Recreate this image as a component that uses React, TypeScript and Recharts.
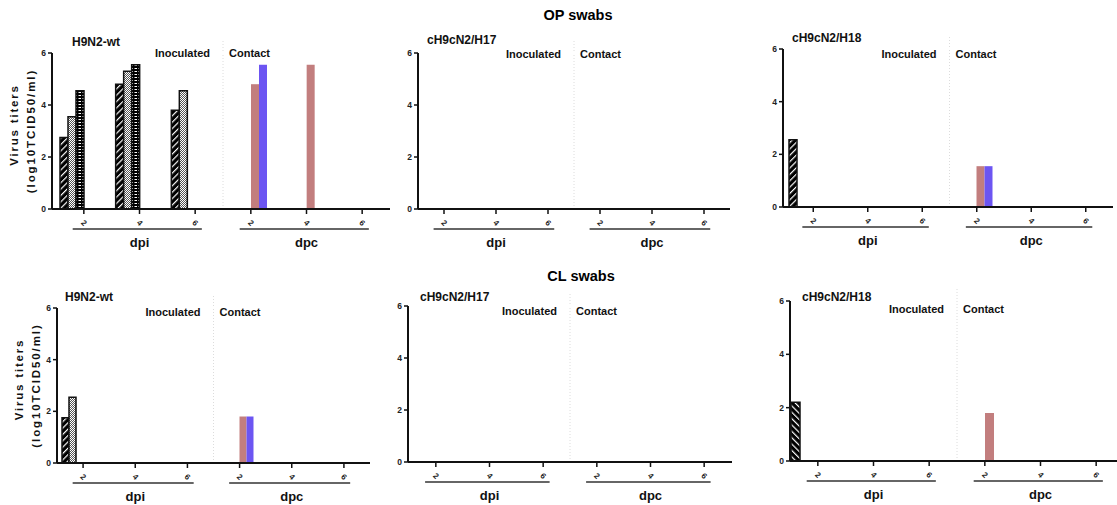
import React from 'react';
import { BarChart, Bar, XAxis, YAxis, ReferenceLine } from 'recharts';

// x categories: days post inoculation / days post contact
const categories = ['dpi2', 'dpi4', 'dpi6', 'dpc2', 'dpc4', 'dpc6'];
const tickLabels = ['2', '4', '6', '2', '4', '6'];
const groupLabels = ['', 'dpi', '', '', 'dpc', ''];
const yTicks = [0, 2, 4, 6];

// OP swabs - H9N2-wt
const opWtInoc1 = [2.75, 4.8, 3.8, 0, 0, 0];
const opWtInoc2 = [3.55, 5.3, 4.55, 0, 0, 0];
const opWtInoc3 = [4.55, 5.55, 0, 0, 0, 0];
const opWtCont1 = [0, 0, 0, 4.8, 5.55, 0];
const opWtCont2 = [0, 0, 0, 5.55, 0, 0];
const opWtCont3 = [0, 0, 0, 0, 0, 0];

// OP swabs - cH9cN2/H17
const opH17Inoc1 = [0, 0, 0, 0, 0, 0];
const opH17Inoc2 = [0, 0, 0, 0, 0, 0];
const opH17Inoc3 = [0, 0, 0, 0, 0, 0];
const opH17Cont1 = [0, 0, 0, 0, 0, 0];
const opH17Cont2 = [0, 0, 0, 0, 0, 0];
const opH17Cont3 = [0, 0, 0, 0, 0, 0];

// OP swabs - cH9cN2/H18
const opH18Inoc1 = [2.55, 0, 0, 0, 0, 0];
const opH18Inoc2 = [0, 0, 0, 0, 0, 0];
const opH18Inoc3 = [0, 0, 0, 0, 0, 0];
const opH18Cont1 = [0, 0, 0, 1.55, 0, 0];
const opH18Cont2 = [0, 0, 0, 1.55, 0, 0];
const opH18Cont3 = [0, 0, 0, 0, 0, 0];

// CL swabs - H9N2-wt
const clWtInoc1 = [1.75, 0, 0, 0, 0, 0];
const clWtInoc2 = [2.55, 0, 0, 0, 0, 0];
const clWtInoc3 = [0, 0, 0, 0, 0, 0];
const clWtCont1 = [0, 0, 0, 1.8, 0, 0];
const clWtCont2 = [0, 0, 0, 1.8, 0, 0];
const clWtCont3 = [0, 0, 0, 0, 0, 0];

// CL swabs - cH9cN2/H17
const clH17Inoc1 = [0, 0, 0, 0, 0, 0];
const clH17Inoc2 = [0, 0, 0, 0, 0, 0];
const clH17Inoc3 = [0, 0, 0, 0, 0, 0];
const clH17Cont1 = [0, 0, 0, 0, 0, 0];
const clH17Cont2 = [0, 0, 0, 0, 0, 0];
const clH17Cont3 = [0, 0, 0, 0, 0, 0];

// CL swabs - cH9cN2/H18
const clH18Inoc1 = [2.2, 0, 0, 0, 0, 0];
const clH18Inoc2 = [0, 0, 0, 0, 0, 0];
const clH18Inoc3 = [0, 0, 0, 0, 0, 0];
const clH18Cont1 = [0, 0, 0, 1.8, 0, 0];
const clH18Cont2 = [0, 0, 0, 0, 0, 0];
const clH18Cont3 = [0, 0, 0, 0, 0, 0];

const FONT = '"Liberation Sans", Arial, Helvetica, sans-serif';
const PINK = '#c27e7e';
const BLUE = '#6c55f2';

const buildRows = (s: number[][]) =>
  categories.map((cat, i) => ({
    cat,
    inoc1: s[0][i],
    inoc2: s[1][i],
    inoc3: s[2][i],
    cont1: s[3][i],
    cont2: s[4][i],
    cont3: s[5][i],
  }));

const YW = 50;
const MT = 16;
const MR = 8;
const X1H = 18;
const X2H = 30;
const MB = 2;

interface PanelProps {
  title: string;
  rows: any[];
  x0: number;
  x1: number;
  yTop: number;
  yBot: number;
  padL: number;
  padR: number;
  barSize: number;
  hatch: string;
  yLabel?: boolean;
  titleX: number;
  titleY: number;
  subY: number;
}

function Panel(p: PanelProps) {
  const left = p.x0 - YW;
  const top = p.yTop - MT;
  const width = YW + (p.x1 - p.x0) + MR;
  const height = MT + (p.yBot - p.yTop) + X1H + X2H + MB;
  const band = (p.x1 - p.x0 - p.padL - p.padR) / categories.length;
  const subDy = p.subY - p.yTop;

  const NumTick = ({ x, y, index }: any) => (
    <text
      x={x}
      y={y + 7}
      transform={`rotate(45 ${x} ${y + 7})`}
      textAnchor="middle"
      dominantBaseline="central"
      fontSize={8}
      fontWeight={700}
      fill="#222"
      fontFamily={FONT}
    >
      {tickLabels[index]}
    </text>
  );

  const GroupTick = ({ x, y, index }: any) => {
    if (!groupLabels[index]) return null;
    return (
      <g>
        <line x1={x - 1.2 * band} x2={x + 1.12 * band} y1={y + 2} y2={y + 2} stroke="#333" strokeWidth={1.5} />
        <text x={x} y={y + 15} textAnchor="middle" dominantBaseline="central" fontSize={13} fontWeight={700} fill="#111" fontFamily={FONT}>
          {groupLabels[index]}
        </text>
      </g>
    );
  };

  const Divider = ({ viewBox }: any) => {
    const { x, y } = viewBox;
    return (
      <g fontFamily={FONT} fontSize={11} fontWeight={700} fill="#111">
        <line x1={x} x2={x} y1={y - 12} y2={y} stroke="#dcdcdc" strokeDasharray="1 2" />
        <text x={x - 13} y={y + subDy} textAnchor="end" dominantBaseline="central">Inoculated</text>
        <text x={x + 6} y={y + subDy} textAnchor="start" dominantBaseline="central">Contact</text>
      </g>
    );
  };

  const YLab = ({ viewBox }: any) => {
    const { x, y, width: w, height: h } = viewBox;
    const cy = y + h / 2;
    const c1 = x + w - 38;
    const c2 = x + w - 21;
    return (
      <g fontFamily={FONT} fontSize={11.5} fontWeight={700} fill="#111">
        <text x={c1} y={cy - 6} transform={`rotate(-90 ${c1} ${cy - 6})`} textAnchor="middle" dominantBaseline="central" letterSpacing={1.8}>
          Virus titers
        </text>
        <text x={c2} y={cy} transform={`rotate(-90 ${c2} ${cy})`} textAnchor="middle" dominantBaseline="central" letterSpacing={1.9}>
          (log10TCID50/ml)
        </text>
      </g>
    );
  };

  return (
    <>
      <div style={{ position: 'absolute', left, top }}>
        <BarChart
          width={width}
          height={height}
          data={p.rows}
          margin={{ top: MT, right: MR, bottom: MB, left: 0 }}
          barGap={0}
          barCategoryGap={0}
        >
          <XAxis
            dataKey="cat"
            height={X1H}
            interval={0}
            padding={{ left: p.padL, right: p.padR }}
            axisLine={{ stroke: '#111', strokeWidth: 2 }}
            tickLine={{ stroke: '#111', strokeWidth: 1.5 }}
            tickSize={5}
            tickMargin={2}
            tick={<NumTick />}
          />
          <XAxis
            xAxisId="grp"
            dataKey="cat"
            height={X2H}
            interval={0}
            padding={{ left: p.padL, right: p.padR }}
            axisLine={false}
            tickLine={false}
            tickSize={0}
            tickMargin={0}
            tick={<GroupTick />}
          />
          <YAxis
            width={YW}
            type="number"
            domain={[0, 6]}
            ticks={yTicks}
            interval={0}
            axisLine={{ stroke: '#111', strokeWidth: 2 }}
            tickLine={{ stroke: '#111', strokeWidth: 1.5 }}
            tickSize={4}
            tickMargin={2}
            tick={{ fontSize: 8.5, fontWeight: 700, fill: '#222', fontFamily: FONT }}
            label={p.yLabel ? (props: any) => <YLab {...props} /> : undefined}
          />
          <ReferenceLine
            x="dpi6"
            position="end"
            stroke="#dcdcdc"
            strokeDasharray="1 2"
            label={(props: any) => <Divider {...props} />}
          />
          <Bar dataKey="inoc1" barSize={p.barSize} fill={`url(#${p.hatch})`} stroke="#111" strokeWidth={1.5} isAnimationActive={false} />
          <Bar dataKey="inoc2" barSize={p.barSize} fill="url(#dots)" stroke="#111" strokeWidth={1.5} isAnimationActive={false} />
          <Bar dataKey="inoc3" barSize={p.barSize} fill="url(#ladder)" stroke="#111" strokeWidth={1.5} isAnimationActive={false} />
          <Bar dataKey="cont1" barSize={p.barSize} fill={PINK} isAnimationActive={false} />
          <Bar dataKey="cont2" barSize={p.barSize} fill={BLUE} isAnimationActive={false} />
          <Bar dataKey="cont3" barSize={p.barSize} fill="#7aa37a" isAnimationActive={false} />
        </BarChart>
      </div>
      <div
        style={{
          position: 'absolute',
          left: p.titleX,
          top: p.titleY - 8,
          fontSize: 12,
          lineHeight: '16px',
          fontWeight: 700,
          color: '#111',
          whiteSpace: 'nowrap',
        }}
      >
        {p.title}
      </div>
    </>
  );
}

export default function App() {
  return (
    <div
      style={{
        position: 'absolute',
        left: 0,
        top: 0,
        width: 1117,
        height: 505,
        overflow: 'hidden',
        background: '#fff',
        fontFamily: FONT,
      }}
    >
      <svg width={0} height={0} style={{ position: 'absolute' }}>
        <defs>
          <pattern id="hatchA" width={4.5} height={4.5} patternUnits="userSpaceOnUse" patternTransform="rotate(45)">
            <rect width={4.5} height={4.5} fill="#000" />
            <rect x={0} y={0} width={1.2} height={4.5} fill="#fff" />
          </pattern>
          <pattern id="hatchB" width={4.5} height={4.5} patternUnits="userSpaceOnUse" patternTransform="rotate(-45)">
            <rect width={4.5} height={4.5} fill="#000" />
            <rect x={0} y={0} width={1.2} height={4.5} fill="#fff" />
          </pattern>
          <pattern id="dots" width={2} height={2} patternUnits="userSpaceOnUse">
            <rect width={2} height={2} fill="#fff" />
            <rect x={0} y={0} width={1} height={1} fill="#555" />
            <rect x={1} y={1} width={1} height={1} fill="#555" />
          </pattern>
          <pattern id="ladder" width={4} height={3} patternUnits="userSpaceOnUse">
            <rect width={4} height={3} fill="#000" />
            <rect x={0.5} y={1} width={2.5} height={1} fill="#fff" />
          </pattern>
        </defs>
      </svg>

      <div style={{ position: 'absolute', left: 478, width: 200, top: 6, textAlign: 'center', fontSize: 14.5, fontWeight: 700, lineHeight: '18px' }}>
        OP swabs
      </div>
      <div style={{ position: 'absolute', left: 481, width: 200, top: 267, textAlign: 'center', fontSize: 14.5, fontWeight: 700, lineHeight: '18px' }}>
        CL swabs
      </div>

      <Panel
        title="H9N2-wt"
        rows={buildRows([opWtInoc1, opWtInoc2, opWtInoc3, opWtCont1, opWtCont2, opWtCont3])}
        x0={52} x1={390} yTop={53} yBot={209} padL={4} padR={0} barSize={8} hatch="hatchA" yLabel
        titleX={72} titleY={42} subY={53}
      />
      <Panel
        title="cH9cN2/H17"
        rows={buildRows([opH17Inoc1, opH17Inoc2, opH17Inoc3, opH17Cont1, opH17Cont2, opH17Cont3])}
        x0={418} x1={730} yTop={53} yBot={209} padL={0} padR={0} barSize={8} hatch="hatchA"
        titleX={427} titleY={40} subY={54}
      />
      <Panel
        title="cH9cN2/H18"
        rows={buildRows([opH18Inoc1, opH18Inoc2, opH18Inoc3, opH18Cont1, opH18Cont2, opH18Cont3])}
        x0={783} x1={1113} yTop={49} yBot={207} padL={3} padR={0} barSize={8} hatch="hatchA"
        titleX={792} titleY={38} subY={54}
      />
      <Panel
        title="H9N2-wt"
        rows={buildRows([clWtInoc1, clWtInoc2, clWtInoc3, clWtCont1, clWtCont2, clWtCont3])}
        x0={57} x1={370} yTop={308} yBot={463} padL={0} padR={0} barSize={7} hatch="hatchA" yLabel
        titleX={65} titleY={297} subY={312}
      />
      <Panel
        title="cH9cN2/H17"
        rows={buildRows([clH17Inoc1, clH17Inoc2, clH17Inoc3, clH17Cont1, clH17Cont2, clH17Cont3])}
        x0={408} x1={732} yTop={306} yBot={462} padL={1} padR={1} barSize={7} hatch="hatchA"
        titleX={420} titleY={297} subY={311}
      />
      <Panel
        title="cH9cN2/H18"
        rows={buildRows([clH18Inoc1, clH18Inoc2, clH18Inoc3, clH18Cont1, clH18Cont2, clH18Cont3])}
        x0={790} x1={1124} yTop={301} yBot={461} padL={0} padR={0} barSize={9} hatch="hatchB"
        titleX={802} titleY={297} subY={309}
      />
    </div>
  );
}
